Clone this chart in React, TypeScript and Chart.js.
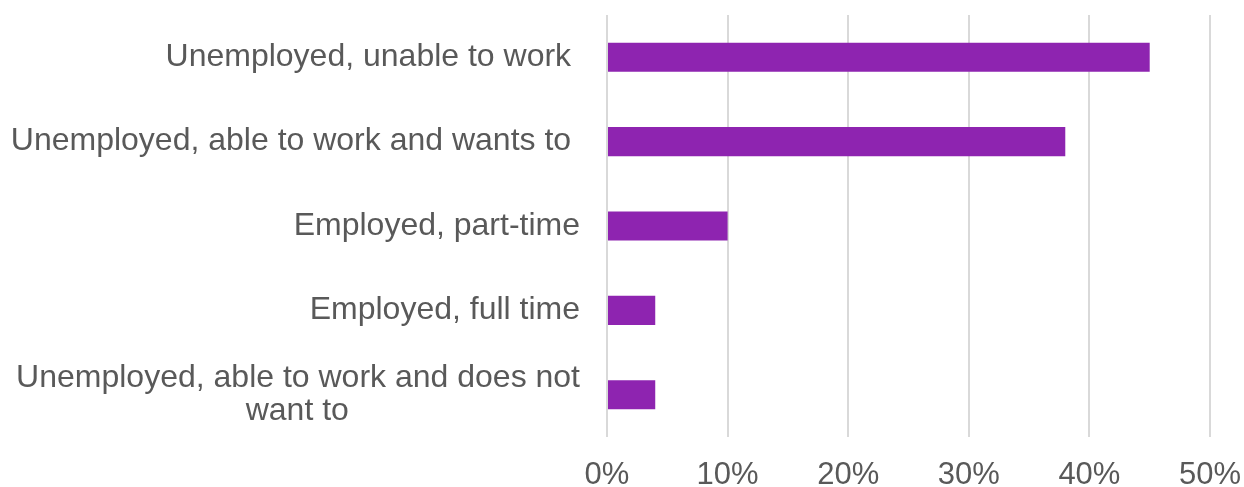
import React, { useEffect, useRef } from "react";
import { Chart, registerables } from "chart.js";

Chart.register(...registerables);

const categories: (string | string[])[] = [
  "Unemployed, unable to work ",
  "Unemployed, able to work and wants to ",
  "Employed, part-time",
  "Employed, full time",
  ["Unemployed, able to work and does not", "want to" + " ".repeat(26)],
];
const values = [45, 38, 10, 4, 4];
const xTicks = [0, 10, 20, 30, 40, 50];

const FONT = "'Liberation Sans', Arial, sans-serif";
const TEXT = "#595959";

export default function App() {
  const ref = useRef<HTMLCanvasElement | null>(null);
  useEffect(() => {
    document.body.style.margin = "0";
    const ctx = ref.current!;
    const chart = new Chart(ctx, {
      type: "bar",
      data: {
        labels: categories,
        datasets: [
          {
            data: values,
            backgroundColor: "#8E24B0",
            borderWidth: 0,
            barPercentage: 0.69,
            categoryPercentage: 0.5,
          },
        ],
      },
      options: {
        indexAxis: "y",
        animation: false,
        responsive: false,
        devicePixelRatio: 1,
        layout: { padding: { top: 15, right: 34, left: 0, bottom: 0 } },
        plugins: { legend: { display: false }, tooltip: { enabled: false } },
        scales: {
          x: {
            min: 0,
            max: 50,
            afterBuildTicks: (axis: any) => {
              axis.ticks = xTicks.map((v) => ({ value: v }));
            },
            afterFit: (axis: any) => {
              axis.paddingLeft = 0;
              axis.paddingRight = 0;
              axis.paddingTop = 0;
              axis.paddingBottom = 0;
              axis.height = 50;
            },
            grid: { color: "#d9d9d9", lineWidth: 2, drawTicks: false },
            border: { display: false },
            ticks: {
              callback: (v: any) => v + "%",
              color: TEXT,
              font: { family: FONT, size: 31, lineHeight: 1.0 },
              padding: 23,
              maxRotation: 0,
            },
          },
          y: {
            grid: { display: false, drawTicks: false },
            border: { display: false },
            afterFit: (axis: any) => {
              axis.width = 607;
              axis.paddingTop = 0;
              axis.paddingBottom = 0;
            },
            ticks: {
              color: TEXT,
              font: { family: FONT, size: 32, lineHeight: 1.03 },
              padding: 27,
            },
          },
        },
      },
    });
    return () => chart.destroy();
  }, []);
  return <canvas ref={ref} width={1244} height={487} style={{ display: "block" }} />;
}
